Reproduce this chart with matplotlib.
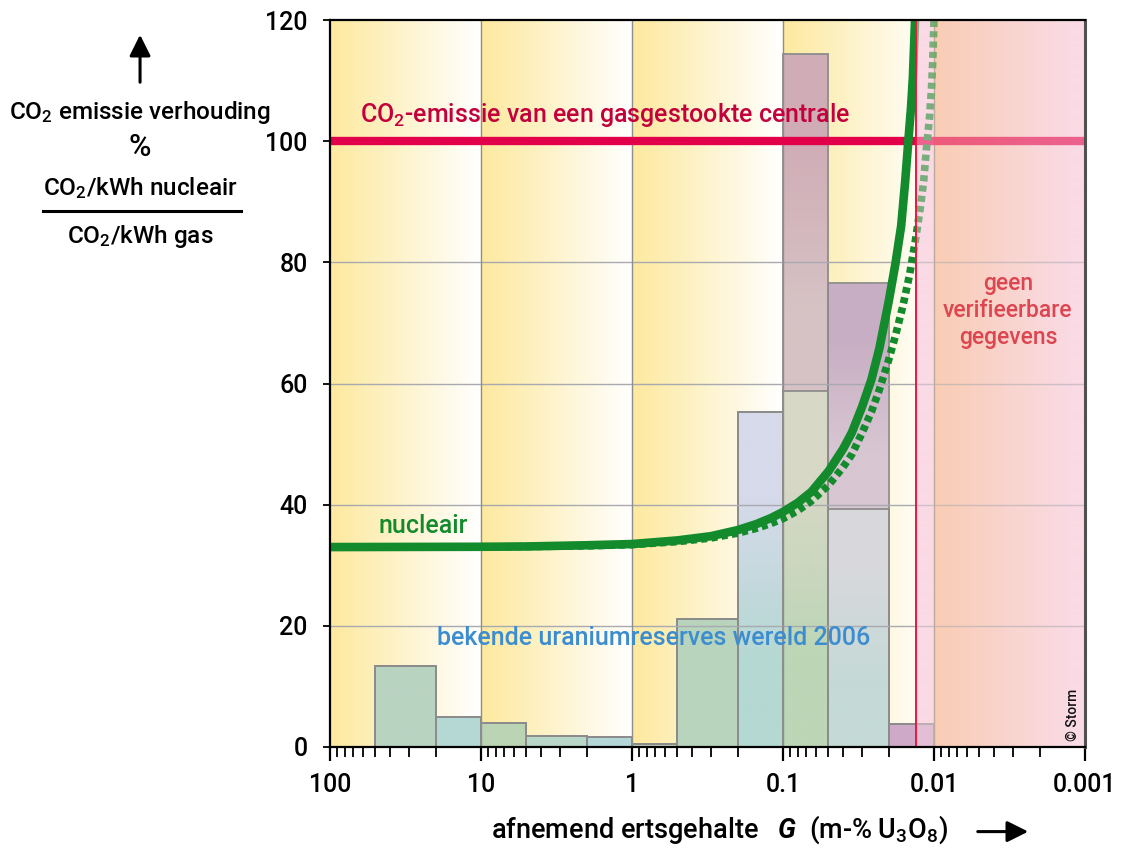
import numpy as np
import matplotlib.pyplot as plt
from matplotlib.patches import FancyArrowPatch
from matplotlib.ticker import FixedLocator, FixedFormatter, LogLocator, NullFormatter
from matplotlib.colors import to_rgb

plt.rcParams['font.family'] = ['Roboto', 'DejaVu Sans']
plt.rcParams['font.weight'] = 500
plt.rcParams['mathtext.fontset'] = 'custom'
plt.rcParams['mathtext.rm'] = 'Roboto:medium'
plt.rcParams['mathtext.it'] = 'Roboto:italic:bold'
plt.rcParams['mathtext.bf'] = 'Roboto:bold'

# --- uranium reserves per ore-grade class (edges in m-% U3O8) ---
bin_left = [50, 20, 10, 5, 2, 1, 0.5, 0.2, 0.1, 0.05, 0.02]
bin_right = [20, 10, 5, 2, 1, 0.5, 0.2, 0.1, 0.05, 0.02, 0.01]
reserves_total = [13.3, 4.9, 3.9, 1.8, 1.7, 0.5, 21.1, 55.3, 114.4, 76.6, 3.8]
reserves_lower = [13.3, 4.9, 3.9, 1.8, 1.7, 0.5, 21.1, 55.3, 58.7, 39.3, 3.8]
# fill colours (top, bottom) for lower and upper parts
lower_colors = [('#b9d3c1', '#b9d3c1'), ('#b4d8d4', '#b4d8d4'), ('#bad4b4', '#bad4b4'),
                ('#b8d7c8', '#b8d7c8'), ('#b4d6d6', '#b4d6d6'), ('#c0d8c0', '#c0d8c0'),
                ('#b8d4bc', '#b8d4bc'), ('#d6daea', '#b4d8d2'), ('#d8d8c6', '#bcd6b6'),
                ('#d8d8dc', '#c4dad6'), ('#cfaac8', '#cfaac8')]
upper_colors = {8: ('#d0acb6', '#d6c2c4'), 9: ('#c8aec4', '#d8c6d2')}

# --- CO2 ratio nuclear / gas (%) versus ore grade ---
grade_solid = [100, 10, 5, 2, 1, 0.5, 0.3, 0.2, 0.15, 0.12, 0.1, 0.08, 0.065, 0.05,
               0.04, 0.035, 0.03, 0.026, 0.023, 0.02, 0.018, 0.0165, 0.0155, 0.0148,
               0.0142, 0.0138, 0.01335]
co2_solid = [33.0, 33.05, 33.1, 33.3, 33.5, 34.1, 34.8, 35.8, 36.8, 37.8, 38.8, 40.3,
             42.1, 45.5, 49.2, 51.9, 56.1, 60.6, 65.8, 73.4, 79.8, 86.0, 93.5, 100.0,
             105.5, 110.5, 120.0]
grade_dotted = [100, 10, 2, 1, 0.5, 0.3, 0.2, 0.15, 0.12, 0.1, 0.08, 0.065, 0.05, 0.04,
                0.035, 0.03, 0.026, 0.023, 0.02, 0.018, 0.016, 0.0145, 0.0133, 0.0124,
                0.0117, 0.0112, 0.0107, 0.0104, 0.0102, 0.0100]
co2_dotted = [33.0, 33.0, 33.2, 33.4, 33.9, 34.5, 35.3, 36.1, 36.9, 37.7, 39.0, 40.6,
              43.2, 46.2, 48.3, 51.8, 55.3, 59.0, 63.8, 67.9, 73.0, 78.0, 83.5, 88.5,
              93.5, 99.0, 104.0, 108.5, 113.0, 120.0]

gas_level = 100
grade_limit = 0.0131  # below this: no verifiable data

x_ticks = [100, 10, 1, 0.1, 0.01, 0.001]
x_tick_labels = ['100', '10', '1', '0.1', '0.01', '0.001']
y_ticks = [0, 20, 40, 60, 80, 100, 120]

fig = plt.figure(figsize=(11.24, 8.49), dpi=100)
ax = fig.add_axes([330 / 1124, 102 / 849, 755 / 1124, 727 / 849])
ax.set_xscale('log')
ax.set_xlim(100, 0.001)
ax.set_ylim(0, 120)
ax.set_autoscale_on(False)


def frac(g):
    return (np.log10(100) - np.log10(g)) / 5.0


# background: yellow fade per decade, pink/peach region past the limit
N = 1510
f = (np.arange(N) + 0.5) / N
yellow = np.array(to_rgb('#fde99e'))
white = np.array([1.0, 1.0, 1.0])
pink = np.array(to_rgb('#fadae4'))
peach = np.array(to_rgb('#f9cdb4'))
bg = np.zeros((1, N, 4))
bg[..., 3] = 1
for i, fi in enumerate(f):
    if fi < frac(grade_limit):
        t = fi * 5 - np.floor(fi * 5)
        c = yellow + (white - yellow) * t
    elif fi < frac(0.01):
        c = pink
    else:
        t = (fi - frac(0.01)) / (1 - frac(0.01))
        c = peach + (pink - peach) * min(1.0, t * 1.1)
    bg[0, i, :3] = c
ax.imshow(bg, extent=(0, 1, 0, 1), transform=ax.transAxes, aspect='auto',
          interpolation='bilinear', zorder=0)


# reserve histogram with vertical colour fades
def fade_bar(x0, x1, y0, y1, c_top, c_bot, z=2):
    col = np.array([to_rgb(c_top), to_rgb(c_bot)])[:, None, :]
    ax.imshow(np.repeat(col, 2, axis=1), extent=(x0, x1, y0, y1), aspect='auto',
              interpolation='bilinear', zorder=z)


for i in range(len(bin_left)):
    fade_bar(bin_left[i], bin_right[i], 0, reserves_lower[i], *lower_colors[i])
    if i in upper_colors:
        fade_bar(bin_left[i], bin_right[i], reserves_lower[i], reserves_total[i],
                 *upper_colors[i])
widths = [r - l for l, r in zip(bin_left, bin_right)]
ax.bar(bin_left, reserves_total, width=widths, align='edge', fill=False,
       edgecolor='#8c8c8c', linewidth=1.3, zorder=2.5)
ax.bar(bin_left, reserves_lower, width=widths, align='edge', fill=False,
       edgecolor='#8c8c8c', linewidth=1.3, zorder=2.5)

# grid
for yv in y_ticks[1:-1]:
    ax.axhline(yv, color='#a9a9b0', lw=1.0, zorder=3)
for xv in x_ticks[1:-1]:
    ax.axvline(xv, color='#8e8e8e', lw=1.0, zorder=3)

# gas reference line and nuclear curves
ax.axhline(gas_level, color='#e2004a', lw=6, zorder=3.5)
ax.plot(grade_dotted, co2_dotted, color='#138a2c', lw=5.5, dashes=(0.8, 0.55),
        dash_capstyle='butt', zorder=4)
ax.plot(grade_solid, co2_solid, color='#138a2c', lw=6.2, solid_capstyle='butt',
        solid_joinstyle='round', zorder=4.2)

# semi-transparent wash over the region without verifiable data
ov = bg.copy()
ov[0, :, 3] = np.where(f >= frac(grade_limit), 0.45, 0.0)
ax.imshow(ov, extent=(0, 1, 0, 1), transform=ax.transAxes, aspect='auto',
          interpolation='nearest', zorder=5)
ax.axvline(grade_limit, color='#f0143c', lw=1.4, zorder=5.5)

# labels inside the plot
ax.text(63, 104.3, 'CO$_2$-emissie van een gasgestookte centrale', color='#c4003c',
        fontsize=18, ha='left', va='center', zorder=6)
ax.text(24, 36.4, 'nucleair', color='#138a2c', fontsize=18, ha='center', va='center',
        zorder=6)
ax.text(19.5, 18.0, 'bekende uraniumreserves wereld 2006', color='#3c8dd0',
        fontsize=18, ha='left', va='center', zorder=6)
ax.text(0.00324, 72.1, 'geen\nverifieerbare\ngegevens', color='#dc4650', fontsize=16.5,
        ha='center', va='center', linespacing=1.22, zorder=6)
ax.text(0.0012, 1.0, '© Storm', color='#111111', fontsize=10, rotation=90,
        ha='center', va='bottom', zorder=6)

# axes styling
ax.xaxis.set_major_locator(FixedLocator(x_ticks))
ax.xaxis.set_major_formatter(FixedFormatter(x_tick_labels))
ax.xaxis.set_minor_locator(LogLocator(base=10, subs=np.arange(2, 10), numticks=20))
ax.xaxis.set_minor_formatter(NullFormatter())
ax.set_yticks(y_ticks)
ax.tick_params(axis='x', which='major', direction='out', length=10, width=1.6,
               pad=9, labelsize=18)
ax.tick_params(axis='x', which='minor', direction='out', length=7, width=1.3)
ax.tick_params(axis='y', direction='out', length=5, width=1.3, pad=11, labelsize=18)
for s in ['left', 'bottom', 'top']:
    ax.spines[s].set_linewidth(1.6)
    ax.spines[s].set_color('black')
ax.spines['right'].set_linewidth(2.2)
ax.spines['right'].set_color('#505050')
for s in ax.spines.values():
    s.set_zorder(7)

# y-axis caption
fig.text(0.1246, 0.868, 'CO$_2$ emissie verhouding', fontsize=17.5, ha='center', va='center')
fig.text(0.1246, 0.826, '%', fontsize=22, ha='center', va='center')
fig.text(0.1246, 0.779, 'CO$_2$/kWh nucleair', fontsize=17.5, ha='center', va='center')
fig.add_artist(plt.Line2D([43 / 1124, 241 / 1124], [1 - 211 / 849, 1 - 211 / 849],
                          color='black', lw=2.2))
fig.text(0.1246, 0.722, 'CO$_2$/kWh gas', fontsize=17.5, ha='center', va='center')
fig.add_artist(FancyArrowPatch(
    (0.1246, 1 - 85 / 849), (0.1246, 1 - 32 / 849), transform=fig.transFigure,
    arrowstyle='-|>,head_length=8,head_width=4', color='black', lw=2.2,
    mutation_scale=1.6))

# x-axis caption
fig.text(0.640, 0.0225, 'afnemend ertsgehalte   $G$  (m-% U$_3$O$_8$)', fontsize=19.5,
         ha='center', va='center')
fig.add_artist(FancyArrowPatch(
    (975 / 1124, 0.0205), (1031 / 1124, 0.0205), transform=fig.transFigure,
    arrowstyle='-|>,head_length=8,head_width=4', color='black', lw=2.2,
    mutation_scale=1.6))

fig.savefig('out.png', dpi=100)
